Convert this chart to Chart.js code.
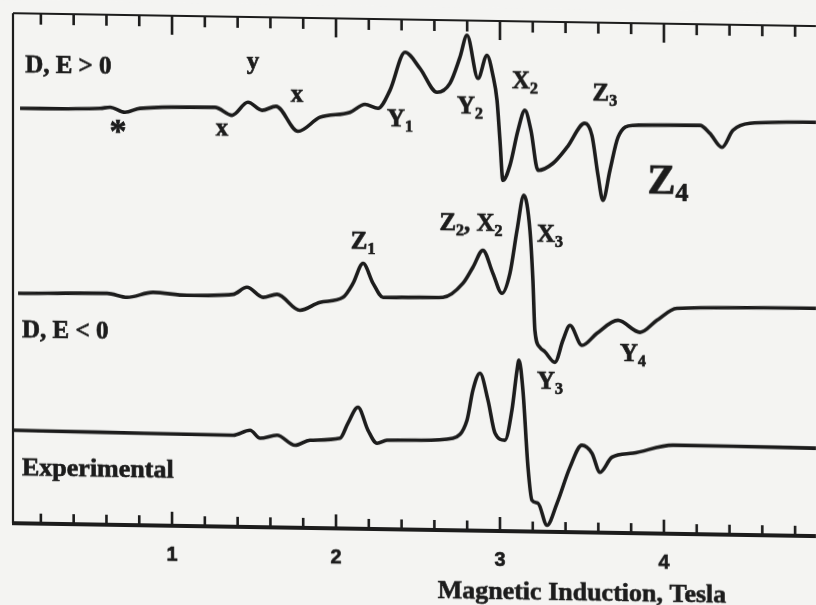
<!DOCTYPE html>
<html>
<head>
<meta charset="utf-8">
<script src="https://cdn.jsdelivr.net/npm/chart.js@4.4.1/dist/chart.umd.min.js"></script>
<style>
html, body { margin: 0; padding: 0; background: #f4f4f2; overflow: hidden; }
/* the scanned figure is slightly sheared, reproduce that */
#wrap { width: 816px; height: 605px; transform-origin: 0 0; transform: skewY(0.92deg); }
</style>
</head>
<body>
<div id="wrap"><canvas id="spectrum" width="816" height="605"></canvas></div>
<script>
// field axis, Tesla
const xMin = 0.03;
const xMax = 4.927;
const tickLabels = ['1', '2', '3', '4'];

// D, E > 0 (simulated)
const posX = [0.073, 0.561, 0.622, 0.713, 0.805, 1.262, 1.366, 1.463, 1.549, 1.634, 1.768, 1.902, 2.085, 2.177, 2.256, 2.329, 2.421, 2.512, 2.616, 2.695, 2.756, 2.799, 2.866, 2.921, 2.957, 2.982, 3.0, 3.018, 3.061, 3.110, 3.152, 3.189, 3.232, 3.323, 3.409, 3.518, 3.561, 3.598, 3.628, 3.671, 3.720, 3.811, 4.220, 4.280, 4.354, 4.421, 4.524, 4.927];
const posY = [0, 1.3, 2.5, -2.3, 1.9, 4.1, -3.6, 9.7, 1.9, 6.1, -18.5, -4.2, 1.3, 9.5, 5.7, 23.9, 62.2, 46.4, 22.7, 31.9, 58.1, 80.2, 37.3, 60.5, 40.6, 15.7, -24.3, -64.3, -49.1, -14, 6.1, -13.8, -53.7, -46.5, -30.2, -5.9, -17.8, -57.7, -82.7, -52.5, -19.4, -7.2, -6.1, -13.9, -27.8, -10.6, -3.3, -1.2];

// D, E < 0 (simulated)
const negX = [0.061, 0.604, 0.726, 0.884, 1.091, 1.372, 1.457, 1.555, 1.640, 1.780, 1.902, 2.043, 2.104, 2.165, 2.226, 2.287, 2.512, 2.652, 2.774, 2.835, 2.896, 2.957, 3.012, 3.061, 3.104, 3.146, 3.183, 3.201, 3.213, 3.244, 3.274, 3.335, 3.384, 3.427, 3.500, 3.591, 3.720, 3.854, 3.957, 4.079, 4.927];
const negY = [0, 1.4, -2.3, 3.1, 0.7, 2.4, 9.7, -0.1, 3.1, -12.5, -4.2, 1.2, 15.3, 35.5, 15.7, 1.8, 2.4, 2.8, 17.1, 33.3, 50.4, 27.6, 7.7, 27.9, 71, 106.1, 71.2, 21.2, -28.7, -45.7, -50, -60.4, -38.3, -23.2, -43, -30.8, -17.4, -29.1, -16.8, -4.5, -2.2];

// Experimental
const expX = [0.024, 0.561, 1.372, 1.476, 1.537, 1.640, 1.750, 1.841, 2.024, 2.073, 2.134, 2.195, 2.250, 2.311, 2.512, 2.713, 2.799, 2.835, 2.878, 2.927, 2.970, 3.030, 3.073, 3.104, 3.116, 3.140, 3.171, 3.195, 3.232, 3.287, 3.348, 3.427, 3.500, 3.561, 3.610, 3.683, 3.811, 4.055, 4.421, 4.927];
const expY = [0, -0.6, -1.5, 3.8, -4, -0.8, -10.5, -5.2, -2.8, 12.4, 28.5, 5.7, -7.2, -4, -3.5, -1, 17.3, 47.4, 64.5, 37.6, 4.7, -2.1, 28, 68.1, 78.1, 48.2, -28.8, -61.7, -64.6, -86.5, -64.3, -28.1, -5.9, -13.7, -32.6, -17.4, -13.1, -4.4, -4.5, -5.1];

// peak labels ("_" marks a subscript character)
const labelText = ['D, E > 0', 'y', 'x', '*', 'x', 'Y_1', 'Y_2', 'X_2', 'Z_3', 'Z_4', 'Z_1', 'D, E < 0', 'Z_2, X_2', 'X_3', 'Y_4', 'Y_3', 'Experimental'];
const labelX = [0.104, 1.494, 1.762, 0.671, 1.305, 2.39, 2.817, 3.152, 3.64, 4.024, 2.165, 0.085, 2.823, 3.305, 3.811, 3.305, 0.085];
const labelY = [457, 464, 432, 392, 397, 409, 423, 449, 438, 351, 286, 192, 306, 296, 178, 149, 55];

const baseLines = [415, 230, 93];

function shift(xs, ys, base) {
    let pts = [];
    for (let i = 0; i < xs.length; i++) {
        pts.push({ x: xs[i], y: ys[i] + base });
    }
    return pts;
}

// scanned print looks heavier than plain bold, so stroke the glyphs a bit
function heavyText(ctx, t, x, y) {
    ctx.fillText(t, x, y);
    ctx.strokeText(t, x, y);
}

function drawLabel(ctx, text, x, y, size, align) {
    let parts = [];
    for (let i = 0; i < text.length; i++) {
        if (text[i] == '_') { parts.push({ t: text[i + 1], sub: true }); i++; }
        else parts.push({ t: text[i], sub: false });
    }
    const subSize = Math.round(size * 0.62);
    let total = 0;
    parts.forEach(p => {
        ctx.font = 'bold ' + (p.sub ? subSize : size) + 'px "Liberation Serif"';
        p.w = ctx.measureText(p.t).width;
        total += p.w;
    });
    let cx = align == 'left' ? x : x - total / 2;
    ctx.textAlign = 'left';
    ctx.textBaseline = 'middle';
    parts.forEach(p => {
        ctx.font = 'bold ' + (p.sub ? subSize : size) + 'px "Liberation Serif"';
        heavyText(ctx, p.t, cx, p.sub ? y + size * 0.28 : y);
        cx += p.w;
    });
}

const framePlugin = {
    id: 'frame',
    beforeDraw(chart) {
        const ctx = chart.ctx;
        ctx.save();
        ctx.fillStyle = '#f4f4f2';
        ctx.fillRect(0, 0, chart.width, chart.height);
        ctx.restore();
    },
    beforeDatasetsDraw(chart) {
        const ctx = chart.ctx;
        const a = chart.chartArea;
        const xs = chart.scales.x;
        ctx.save();
        ctx.strokeStyle = '#1c1c1c';
        ctx.lineWidth = 2.2;
        ctx.beginPath();
        ctx.moveTo(a.left, a.top); ctx.lineTo(a.right, a.top);
        ctx.moveTo(a.left, a.top); ctx.lineTo(a.left, a.bottom);
        ctx.stroke();
        ctx.lineWidth = 3.8;
        ctx.beginPath();
        ctx.moveTo(a.left - 1, a.bottom); ctx.lineTo(a.right, a.bottom);
        ctx.stroke();
        // inward ticks every 0.2 T
        ctx.lineWidth = 2.6;
        for (let i = 1; i * 0.2 < xMax; i++) {
            const px = xs.getPixelForValue(i * 0.2);
            const major = i % 5 == 0;
            ctx.beginPath();
            ctx.moveTo(px, a.top); ctx.lineTo(px, a.top + (major ? 19 : 11));
            ctx.moveTo(px, a.bottom); ctx.lineTo(px, a.bottom - (major ? 14 : 10));
            ctx.stroke();
        }
        ctx.fillStyle = '#1c1c1c';
        ctx.lineWidth = 0.6;
        ctx.font = 'bold 20px "Liberation Sans"';
        ctx.textAlign = 'center';
        ctx.textBaseline = 'middle';
        tickLabels.forEach((t, i) => {
            heavyText(ctx, t, xs.getPixelForValue(i + 1), a.bottom + 29);
        });
        ctx.font = 'bold 26px "Liberation Serif"';
        heavyText(ctx, 'Magnetic Induction, Tesla', xs.getPixelForValue(3.5), a.bottom + 61);
        ctx.restore();
    },
    afterDatasetsDraw(chart) {
        const ctx = chart.ctx;
        const xs = chart.scales.x;
        const ys = chart.scales.y;
        ctx.save();
        ctx.fillStyle = '#1c1c1c';
        ctx.strokeStyle = '#1c1c1c';
        ctx.lineWidth = 0.7;
        for (let i = 0; i < labelText.length; i++) {
            const t = labelText[i];
            const left = t.length > 4 && t[0] != 'Z';
            let size = 25;
            if (t == 'Z_4') size = 42;
            if (t == 'Experimental') size = 26;
            if (t == '*') size = 34;
            drawLabel(ctx, t, xs.getPixelForValue(labelX[i]), ys.getPixelForValue(labelY[i]), size, left ? 'left' : 'center');
        }
        ctx.restore();
    }
};

const traceStyle = {
    borderColor: '#1c1c1c',
    borderWidth: 3.6,
    pointRadius: 0,
    fill: false,
    cubicInterpolationMode: 'monotone'
};

new Chart(document.getElementById('spectrum').getContext('2d'), {
    type: 'line',
    data: {
        datasets: [
            Object.assign({ label: 'D, E > 0', data: shift(posX, posY, baseLines[0]) }, traceStyle),
            Object.assign({ label: 'D, E < 0', data: shift(negX, negY, baseLines[1]) }, traceStyle),
            Object.assign({ label: 'Experimental', data: shift(expX, expY, baseLines[2]) }, traceStyle)
        ]
    },
    options: {
        responsive: false,
        animation: false,
        events: [],
        layout: { padding: { left: 13, top: 13, right: 0, bottom: 82 } },
        scales: {
            x: { type: 'linear', min: xMin, max: xMax, display: false },
            y: { min: 0, max: 510, display: false }
        },
        plugins: { legend: { display: false }, tooltip: { enabled: false } }
    },
    plugins: [framePlugin]
});
</script>
</body>
</html>
